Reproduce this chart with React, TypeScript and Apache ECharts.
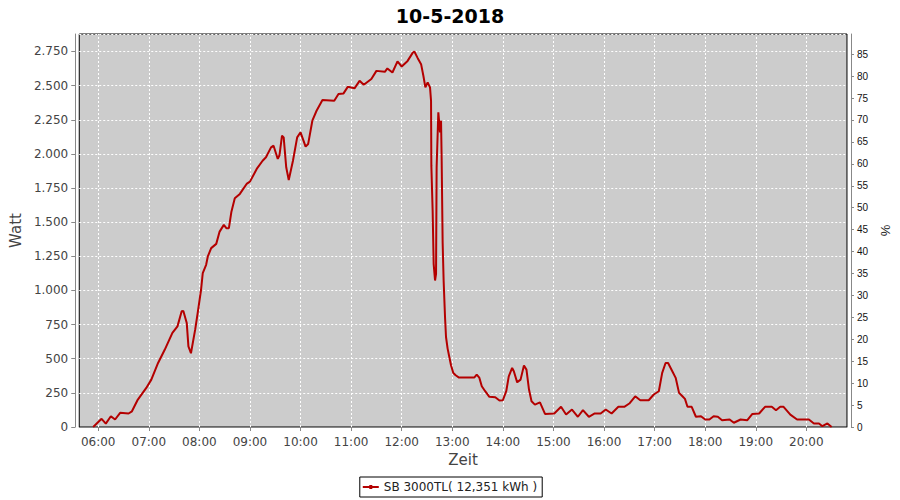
import React, { useEffect, useRef } from 'react';
import * as echarts from 'echarts';

const titleText = '10-5-2018';
const seriesName = 'SB 3000TL( 12,351 kWh )';
const xTickLabels = ['06:00','07:00','08:00','09:00','10:00','11:00','12:00','13:00','14:00','15:00','16:00','17:00','18:00','19:00','20:00'];

const times = [
  '05:54','06:04','06:09','06:15','06:20','06:26','06:36','06:40','06:47','06:57',
  '07:03','07:11','07:19','07:28','07:34','07:39','07:41','07:45','07:47','07:50',
  '07:55','07:58','08:02','08:04','08:08','08:10','08:14','08:20','08:24','08:29',
  '08:32','08:35','08:38','08:42','08:48','08:56','09:00','09:08','09:15','09:19',
  '09:25','09:28','09:33','09:35','09:38','09:40','09:43','09:46','09:51','09:56',
  '10:00','10:06','10:09','10:14','10:19','10:26','10:40','10:45','10:51','10:56',
  '11:04','11:10','11:15','11:24','11:30','11:40','11:43','11:49','11:55','12:00',
  '12:07','12:13','12:15','12:19','12:23','12:25:42','12:28:05','12:30:48','12:33:36','12:34:48',
  '12:35:10','12:36:42','12:37:54','12:39:33','12:40:44','12:41:26','12:43:27','12:45:28','12:46:40','12:47:22',
  '12:48:33','12:49:44','12:51:23','12:52:34','12:54:28','12:56:30','12:58:30','13:01:12','13:04','13:08',
  '13:26','13:29','13:32','13:35','13:39','13:44','13:51','13:56','14:00','14:04',
  '14:07','14:11','14:13','14:17','14:21','14:25','14:28','14:31','14:34','14:38',
  '14:44','14:50','15:01','15:09','15:15','15:22','15:29','15:35','15:42','15:49',
  '15:56','16:02','16:09','16:17','16:24','16:30','16:37','16:43','16:53','16:59',
  '17:05','17:09','17:13','17:16','17:21','17:25','17:29','17:33','17:36','17:39',
  '17:44','17:49','17:55','18:00','18:05','18:10','18:15','18:20','18:29','18:34',
  '18:42','18:50','18:56','19:04','19:11','19:19','19:24','19:29','19:33','19:41',
  '19:49','19:55','20:03','20:09','20:15','20:19','20:25','20:30'
];

const watts = [
  0, 60, 25, 79, 55, 104, 99, 115, 201, 286,
  347, 469, 567, 689, 737, 847, 850, 762, 590, 540,
  713, 835, 1005, 1127, 1188, 1249, 1310, 1341, 1431, 1480,
  1456, 1456, 1577, 1675, 1707, 1780, 1797, 1890, 1950, 1975,
  2048, 2060, 1963, 1990, 2133, 2121, 1902, 1809, 1950, 2121,
  2158, 2053, 2072, 2243, 2316, 2394, 2389, 2438, 2443, 2491,
  2480, 2535, 2506, 2548, 2608, 2601, 2626, 2596, 2677, 2640,
  2681, 2740, 2750, 2701, 2657, 2572, 2487, 2523, 2487, 2389,
  1914, 1585, 1195, 1073, 1122, 1902, 2304, 2158, 2243, 1975,
  1354, 1073, 806, 659, 574, 513, 452, 396, 379, 362,
  362, 384, 362, 298, 262, 221, 218, 194, 196, 262,
  371, 433, 408, 327, 347, 450, 420, 274, 189, 164,
  181, 96, 99, 148, 91, 128, 75, 123, 75, 99,
  99, 128, 99, 148, 148, 172, 225, 196, 196, 238,
  262, 396, 469, 469, 408, 360, 250, 225, 206, 148,
  148, 75, 79, 55, 55, 79, 75, 50, 55, 31,
  55, 50, 96, 99, 148, 148, 123, 148, 148, 91,
  55, 55, 55, 26, 26, 6, 26, 0
];

const toMin = (s: string) => {
  const p = s.split(':').map(Number);
  return p[0] * 60 + p[1] + (p[2] || 0) / 60;
};

const fmtThousands = (v: number) => {
  const s = String(Math.round(v));
  return s.replace(/\B(?=(\d{3})+(?!\d))/g, '.');
};

const FONT = 'DejaVu Sans';

export default function App() {
  const ref = useRef<HTMLDivElement>(null);
  useEffect(() => {
    if (!ref.current) return;
    const chart = echarts.init(ref.current, null, { renderer: 'svg' });
    const data = times.map((t, i) => [toMin(t), watts[i]]);
    const hourTicks = xTickLabels.map(toMin);
    const leftMax = 2878;
    const rightMax = 89.6;
    chart.setOption({
      animation: false,
      backgroundColor: '#ffffff',
      textStyle: { fontFamily: FONT },
      title: {
        text: titleText,
        left: 'center',
        top: 1,
        textStyle: { fontFamily: FONT, fontSize: 19, fontWeight: 'bold', color: '#000' },
      },
      legend: {
        left: 'center',
        top: 477,
        padding: [4, 5, 4, 3],
        borderColor: '#000',
        borderWidth: 1,
        itemWidth: 16,
        itemHeight: 6,
        icon: 'path://M0,2 L16,2 L16,4 L0,4 Z M6.5,1 L9.5,1 L9.5,5 L6.5,5 Z',
        textStyle: { fontFamily: FONT, fontSize: 12, color: '#222' },
        data: [seriesName],
      },
      grid: {
        left: 79,
        right: 52,
        top: 34,
        bottom: 73,
        show: true,
        backgroundColor: '#cccccc',
        borderColor: '#000000',
        borderWidth: 1,
      },
      xAxis: {
        type: 'value',
        min: 337.5,
        max: 1248.2,
        offset: 3,
        name: 'Zeit',
        nameLocation: 'middle',
        nameGap: 21,
        nameTextStyle: { fontFamily: FONT, fontSize: 15, color: '#444' },
        axisLine: { show: true, lineStyle: { color: '#888', width: 1 } },
        axisTick: { show: true, length: 4, lineStyle: { color: '#888' }, customValues: hourTicks },
        axisLabel: {
          customValues: hourTicks,
          margin: 6,
          fontFamily: FONT,
          fontSize: 12,
          color: '#444',
          formatter: (v: number) => {
            const h = Math.floor(v / 60);
            const m = Math.round(v - h * 60);
            return String(h).padStart(2, '0') + ':' + String(m).padStart(2, '0');
          },
        },
        splitLine: { show: false },
      },
      yAxis: [
        {
          type: 'value',
          min: 0,
          max: leftMax,
          interval: 250,
          offset: 4,
          name: 'Watt',
          nameLocation: 'middle',
          nameGap: 47,
          nameRotate: 90,
          nameTextStyle: { fontFamily: FONT, fontSize: 15, color: '#444' },
          axisLine: { show: true, lineStyle: { color: '#888', width: 1 } },
          axisTick: { show: true, length: 4, lineStyle: { color: '#888' } },
          axisLabel: {
            margin: 7,
            fontFamily: FONT,
            fontSize: 12,
            color: '#444',
            showMaxLabel: false,
            formatter: (v: number) => (v > 2800 ? '' : fmtThousands(v)),
          },
          splitLine: { show: true, lineStyle: { color: '#ffffff', type: [2, 2], width: 1 } },
        },
        {
          type: 'value',
          min: 0,
          max: rightMax,
          interval: 5,
          offset: 4,
          position: 'right',
          name: '%',
          nameLocation: 'middle',
          nameGap: 22,
          nameRotate: 90,
          nameTextStyle: { fontFamily: 'Liberation Sans', fontSize: 13, color: '#222' },
          axisLine: { show: true, lineStyle: { color: '#888', width: 1 } },
          axisTick: { show: true, length: 3, lineStyle: { color: '#888' } },
          axisLabel: {
            margin: 6,
            fontFamily: 'Liberation Sans',
            fontSize: 10,
            color: '#111',
            showMaxLabel: false,
            formatter: (v: number) => (v > 87 ? '' : String(v)),
          },
          splitLine: { show: false },
        },
      ],
      series: [
        {
          name: 'grid-hours',
          type: 'line',
          data: [],
          silent: true,
          z: 1,
          markLine: {
            silent: true,
            symbol: 'none',
            z: 1,
            label: { show: false },
            emphasis: { disabled: true },
            lineStyle: { color: '#ffffff', type: [2, 2], width: 1 },
            data: hourTicks.map((v) => ({ xAxis: v })),
          },
        },
        {
          name: seriesName,
          type: 'line',
          data,
          symbol: 'none',
          lineStyle: { color: '#b40000', width: 2 },
          itemStyle: { color: '#b40000' },
          z: 3,
        },
      ],
    });
    return () => chart.dispose();
  }, []);
  return (
    <div
      ref={ref}
      style={{ position: 'absolute', left: 0, top: 0, width: 900, height: 500 }}
    />
  );
}
